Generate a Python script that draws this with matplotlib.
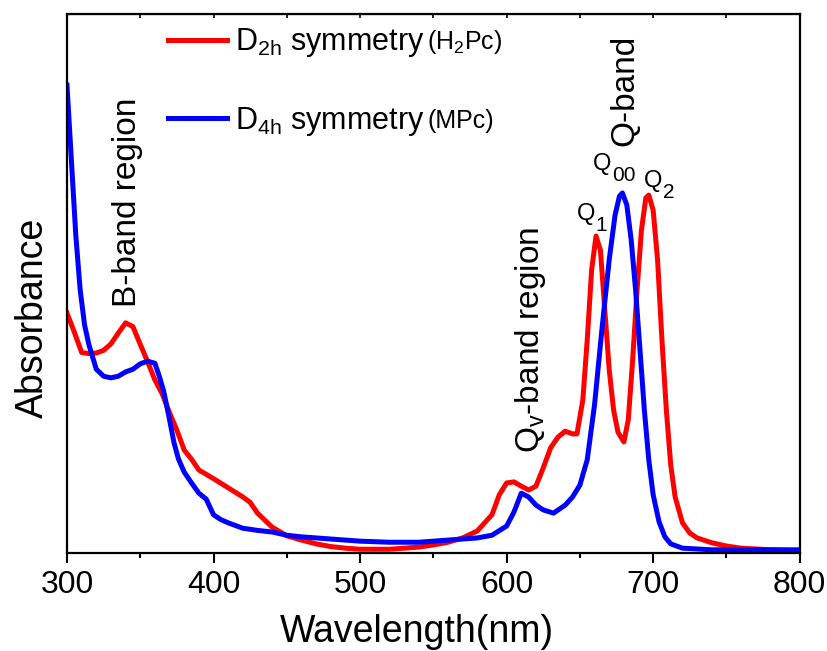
import numpy as np
import matplotlib
matplotlib.use("Agg")
import matplotlib.pyplot as plt
from matplotlib.ticker import MultipleLocator

plt.rcParams['font.family'] = ['Liberation Sans', 'DejaVu Sans']
plt.rcParams['mathtext.fontset'] = 'custom'
plt.rcParams['mathtext.rm'] = 'Liberation Sans'
plt.rcParams['mathtext.it'] = 'Liberation Sans'

# D2h symmetry (H2Pc) - red
wl_red = [300, 305, 310, 315, 320, 325, 330, 335, 340, 345, 350, 355, 360, 365, 370,
          375, 380, 385, 390, 395, 400, 410, 420, 425, 430, 440, 450, 460, 470, 480,
          490, 500, 510, 520, 530, 540, 550, 560, 570, 580, 590, 595, 600, 605, 610,
          615, 620, 625, 630, 635, 640, 645, 648, 652, 655, 658, 661, 664, 667, 670,
          673, 676, 680, 683, 686, 689, 692, 695, 697, 700, 703, 706, 709, 712, 715,
          720, 725, 730, 740, 750, 760, 780, 800]
abs_red = [0.445, 0.410, 0.372, 0.370, 0.371, 0.376, 0.388, 0.408, 0.427, 0.420, 0.387, 0.355,
           0.321, 0.295, 0.260, 0.228, 0.191, 0.174, 0.154, 0.146, 0.138, 0.121, 0.104, 0.094,
           0.074, 0.048, 0.032, 0.024, 0.017, 0.012, 0.009, 0.007, 0.007, 0.007, 0.009, 0.011,
           0.015, 0.020, 0.028, 0.041, 0.071, 0.108, 0.130, 0.132, 0.124, 0.117, 0.124, 0.158,
           0.195, 0.215, 0.226, 0.221, 0.221, 0.284, 0.395, 0.525, 0.588, 0.562, 0.451, 0.340,
           0.265, 0.224, 0.206, 0.247, 0.358, 0.488, 0.599, 0.659, 0.664, 0.636, 0.544, 0.395,
           0.265, 0.163, 0.104, 0.056, 0.037, 0.028, 0.019, 0.013, 0.009, 0.006, 0.004]

# D4h symmetry (MPc) - blue
wl_blue = [300, 303, 306, 309, 312, 315, 320, 325, 330, 335, 340, 345, 350, 355, 360,
           363, 366, 370, 373, 376, 380, 385, 390, 395, 400, 405, 410, 420, 430, 440,
           450, 460, 480, 500, 520, 540, 560, 580, 590, 600, 605, 610, 615, 620, 625,
           632, 640, 645, 650, 655, 660, 665, 670, 674, 677, 679, 682, 685, 688, 691,
           694, 697, 700, 704, 708, 712, 720, 740, 800]
abs_blue = [0.868, 0.729, 0.590, 0.488, 0.423, 0.386, 0.341, 0.328, 0.325, 0.328, 0.336, 0.341,
            0.351, 0.356, 0.352, 0.328, 0.300, 0.247, 0.205, 0.175, 0.150, 0.130, 0.111, 0.100,
            0.071, 0.062, 0.056, 0.046, 0.042, 0.039, 0.033, 0.030, 0.026, 0.022, 0.020, 0.020,
            0.024, 0.028, 0.033, 0.050, 0.076, 0.111, 0.104, 0.089, 0.080, 0.074, 0.089, 0.104,
            0.126, 0.173, 0.275, 0.414, 0.544, 0.627, 0.662, 0.668, 0.646, 0.581, 0.488, 0.377,
            0.265, 0.173, 0.108, 0.058, 0.030, 0.017, 0.009, 0.006, 0.006]

# peak labels: (subscript, wavelength, absorbance of baseline)
peak_labels = [('1', 648, 0.618), ('00', 659, 0.711), ('2', 694, 0.679)]

fig = plt.figure(figsize=(8.27, 6.51), dpi=100)
ax = fig.add_axes([0.081, 0.1505, 0.886, 0.828])

ax.plot(wl_red, abs_red, color='#ff0000', lw=3.6, label='D$_\\mathrm{2h}$ symmetry')
ax.plot(wl_blue, abs_blue, color='#0000ff', lw=3.6, label='D$_\\mathrm{4h}$ symmetry')

ax.set_xlim(300, 800)
ax.set_ylim(0, 1.0)
ax.set_yticks([])
ax.xaxis.set_major_locator(MultipleLocator(100))
ax.xaxis.set_minor_locator(MultipleLocator(50))
ax.tick_params(axis='x', which='major', direction='out', length=7, width=1.5,
               labelsize=23, pad=5)
ax.tick_params(axis='x', which='minor', direction='out', length=3.5, width=1.5)
for s in ax.spines.values():
    s.set_linewidth(1.6)

top = ax.secondary_xaxis('top')
top.xaxis.set_major_locator(MultipleLocator(50))
top.tick_params(direction='in', length=3, width=1.2)
top.set_xticklabels([])

ax.set_xlabel('Wavelength(nm)', fontsize=27)
ax.xaxis.set_label_coords(0.4775, -0.113)
ax.set_ylabel('Absorbance', fontsize=27)
ax.yaxis.set_label_coords(-0.022, 0.436)

ax.legend(loc='upper left', bbox_to_anchor=(0.1378, 0.977), frameon=False, fontsize=22,
          handlelength=1.93, handletextpad=0.26, labelspacing=1.48,
          borderpad=0, borderaxespad=0)
ax.text(0.492, 0.935, '(H$_2$Pc)', transform=ax.transAxes, fontsize=18, va='baseline')
ax.text(0.492, 0.789, '(MPc)', transform=ax.transAxes, fontsize=18, va='baseline')

ax.text(341, 0.651, 'B-band region', rotation=90, fontsize=24, ha='center', va='center')
ax.text(616, 0.395, 'Q$_\\mathrm{v}$-band region', rotation=90, fontsize=24, ha='center', va='center')
ax.text(681, 0.859, 'Q-band', rotation=90, fontsize=24, ha='center', va='center')
for sub, x, y in peak_labels:
    ax.annotate('Q', xy=(x, y), fontsize=17, ha='left', va='baseline')
    ax.annotate(sub, xy=(x, y), xytext=(13.5, -8), textcoords='offset points',
                fontsize=15, ha='left', va='baseline')

fig.savefig('out.png', dpi=100)
